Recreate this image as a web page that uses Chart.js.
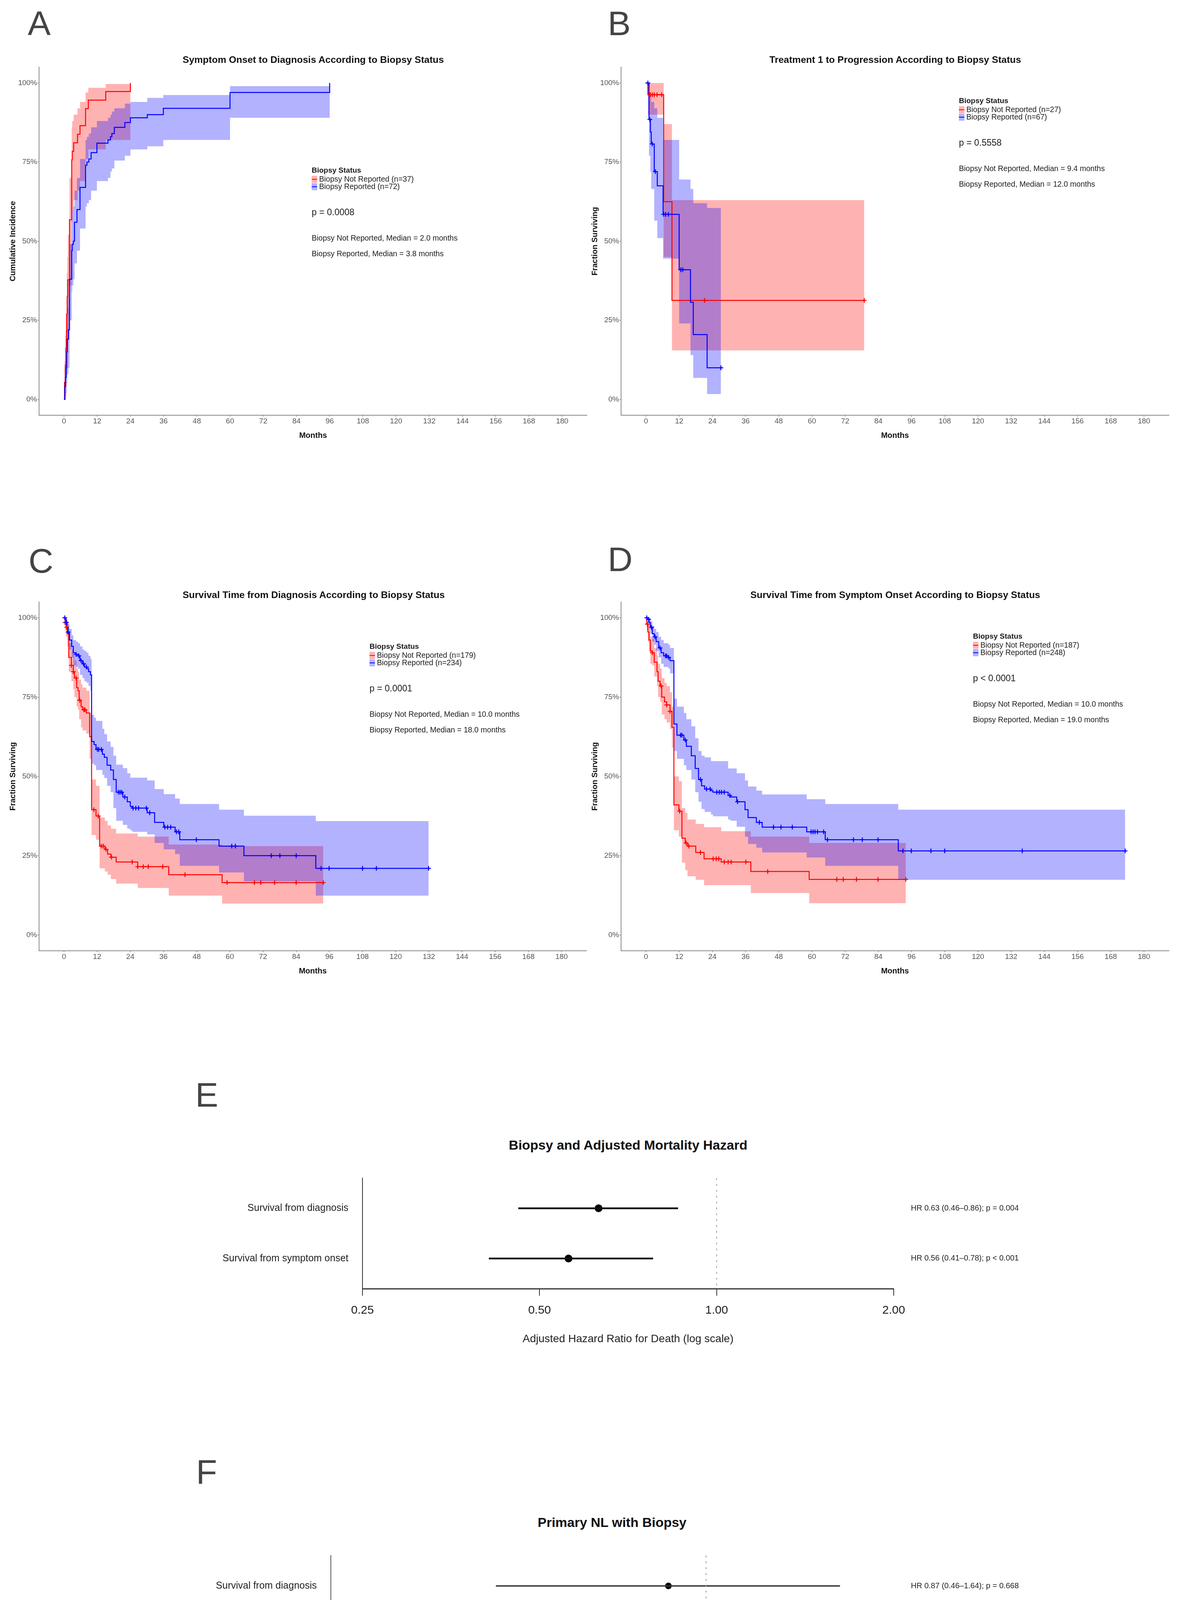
<!DOCTYPE html>
<html>
<head>
<meta charset="utf-8">
<script src="https://cdn.jsdelivr.net/npm/chart.js@4.4.1/dist/chart.umd.min.js"></script>
<style>
  body { margin: 0; background: #fff; width: 3021px; height: 5012px; position: relative; overflow: hidden;
         font-family: "Liberation Sans", Arial, sans-serif; }
  canvas { position: absolute; }
  .t { position: absolute; white-space: nowrap; color: #1a1a1a; line-height: 1.2; }
  .letter { position: absolute; font-size: 88px; line-height: 1; color: #444; }
  .sw { position: absolute; width: 14px; height: 18px; }
</style>
</head>
<body>
<script>
// ---- shared ticks / labels ----
var monthTicks = [0, 12, 24, 36, 48, 60, 72, 84, 96, 108, 120, 132, 144, 156, 168, 180];
var pctTickValues = [0, 0.25, 0.5, 0.75, 1];
var pctTickLabels = ['0%', '25%', '50%', '75%', '100%'];
var groupNames = ['Biopsy Not Reported', 'Biopsy Reported'];
var hrTicks = [0.25, 0.5, 1, 2];
var rowLabels = ['Survival from diagnosis', 'Survival from symptom onset'];

// ---- A: symptom onset to diagnosis (cumulative incidence) ----
var aNotT  = [0, 0.2, 0.5, 0.7, 0.9, 1.0, 1.2, 1.4, 2.0, 2.8, 3.0, 3.5, 4.9, 5.8, 7.8, 8.8, 15.1, 24];
var aNotS  = [0, 0.054, 0.108, 0.162, 0.216, 0.27, 0.324, 0.378, 0.568, 0.757, 0.784, 0.811, 0.838, 0.865, 0.919, 0.946, 0.973, 1.0];
var aNotLo = [0, 0, 0.01, 0.04, 0.07, 0.11, 0.15, 0.19, 0.36, 0.56, 0.60, 0.63, 0.66, 0.69, 0.76, 0.79, 0.82, 0.82];
var aNotHi = [0, 0.12, 0.20, 0.27, 0.33, 0.40, 0.45, 0.52, 0.70, 0.86, 0.88, 0.90, 0.92, 0.94, 0.97, 0.985, 0.997, 1.0];
var aNotCens = [];
var aRepT  = [0, 0.3, 0.5, 0.8, 1.0, 1.2, 1.6, 2.0, 2.8, 3.0, 3.4, 3.8, 4.7, 5.8, 7.8, 8.3, 9.0, 9.8, 11.9, 15.9, 16.8, 17.3, 18.2, 22.0, 24.0, 30.1, 35.9, 60, 96];
var aRepS  = [0, 0.04, 0.07, 0.10, 0.15, 0.19, 0.22, 0.38, 0.47, 0.49, 0.50, 0.56, 0.60, 0.67, 0.74, 0.75, 0.76, 0.78, 0.81, 0.82, 0.83, 0.84, 0.86, 0.875, 0.89, 0.90, 0.92, 0.97, 1.0];
var aRepLo = [0, 0, 0, 0.02, 0.05, 0.08, 0.10, 0.25, 0.34, 0.36, 0.38, 0.43, 0.47, 0.54, 0.61, 0.62, 0.63, 0.66, 0.69, 0.70, 0.72, 0.73, 0.755, 0.77, 0.79, 0.80, 0.82, 0.89, 0.89];
var aRepHi = [0, 0.09, 0.13, 0.17, 0.24, 0.29, 0.32, 0.49, 0.58, 0.60, 0.61, 0.66, 0.70, 0.76, 0.82, 0.83, 0.84, 0.86, 0.88, 0.89, 0.90, 0.91, 0.92, 0.935, 0.94, 0.953, 0.962, 0.99, 0.99];
var aRepCens = [];

// ---- B: treatment 1 to progression ----
var bNotT  = [0, 0.7, 6.4, 9.4, 78.9];
var bNotS  = [1, 0.963, 0.625, 0.313, 0.313];
var bNotLo = [1, 0.90, 0.45, 0.155, 0.155];
var bNotHi = [1, 1.0, 0.87, 0.63, 0.63];
var bNotCens = [1.6, 2.3, 3.0, 4.0, 5.7, 21.2, 78.9];
var bRepT  = [0, 1.1, 1.6, 1.9, 3.0, 4.1, 6.2, 12.0, 16.1, 17.1, 22.1, 27.1];
var bRepS  = [1, 0.885, 0.845, 0.807, 0.72, 0.675, 0.585, 0.41, 0.307, 0.205, 0.10, 0.10];
var bRepLo = [1, 0.77, 0.72, 0.665, 0.565, 0.51, 0.445, 0.24, 0.14, 0.068, 0.017, 0.017];
var bRepHi = [1, 0.97, 0.96, 0.94, 0.92, 0.89, 0.82, 0.695, 0.665, 0.62, 0.605, 0.605];
var bRepCens = [0.7, 1.4, 2.3, 3.4, 6.4, 7.1, 8.1, 12.6, 13.3, 27.1];

// ---- C: survival from diagnosis ----
var cNotT  = [0, 0.4, 0.8, 1.2, 1.75, 2.7, 3.4, 3.8, 4.6, 5.1, 5.5, 6.2, 6.7, 8.1, 9.3, 10.0, 11.6, 12.9, 14.8, 15.8, 17.0, 18.9, 26.7, 37.9, 57.2, 93.8];
var cNotS  = [1, 0.985, 0.97, 0.95, 0.875, 0.85, 0.83, 0.81, 0.78, 0.77, 0.74, 0.72, 0.71, 0.70, 0.625, 0.395, 0.375, 0.28, 0.27, 0.255, 0.245, 0.23, 0.215, 0.19, 0.165, 0.165];
var cNotLo = [1, 0.96, 0.94, 0.91, 0.83, 0.80, 0.775, 0.75, 0.72, 0.71, 0.68, 0.655, 0.645, 0.635, 0.555, 0.315, 0.30, 0.21, 0.20, 0.19, 0.176, 0.162, 0.148, 0.124, 0.099, 0.099];
var cNotHi = [1, 1, 0.995, 0.98, 0.92, 0.90, 0.885, 0.865, 0.84, 0.83, 0.805, 0.79, 0.78, 0.77, 0.70, 0.49, 0.47, 0.37, 0.36, 0.345, 0.335, 0.32, 0.31, 0.285, 0.28, 0.28];
var cNotCens = [0.4, 1.0, 2.7, 3.4, 4.4, 5.7, 7.2, 7.6, 10.8, 12.4, 13.5, 14.2, 15.2, 17.2, 24.7, 26.7, 28.7, 30.5, 35.7, 43.8, 59.0, 68.9, 71.2, 76.2, 84.0, 93.8];
var cRepT  = [0, 0.5, 0.8, 1.1, 1.5, 2.0, 2.8, 3.4, 4.4, 5.1, 5.8, 6.7, 7.4, 8.2, 8.9, 9.6, 10.0, 10.9, 11.6, 13.9, 14.6, 15.6, 16.9, 17.9, 18.9, 21.3, 22.9, 24.0, 24.7, 30.1, 32.8, 36.1, 40.2, 41.9, 56.1, 65.1, 91.1, 131.9];
var cRepS  = [1, 0.995, 0.985, 0.97, 0.955, 0.93, 0.91, 0.89, 0.885, 0.88, 0.865, 0.855, 0.845, 0.84, 0.83, 0.82, 0.61, 0.60, 0.585, 0.57, 0.56, 0.535, 0.52, 0.49, 0.45, 0.435, 0.42, 0.405, 0.40, 0.385, 0.355, 0.34, 0.325, 0.30, 0.28, 0.25, 0.21, 0.21];
var cRepLo = [1, 0.985, 0.97, 0.95, 0.93, 0.90, 0.875, 0.85, 0.845, 0.84, 0.82, 0.81, 0.80, 0.795, 0.785, 0.77, 0.54, 0.535, 0.52, 0.505, 0.495, 0.47, 0.45, 0.40, 0.36, 0.347, 0.335, 0.33, 0.325, 0.317, 0.29, 0.27, 0.255, 0.218, 0.197, 0.169, 0.124, 0.124];
var cRepHi = [1, 1, 1, 0.99, 0.98, 0.965, 0.945, 0.93, 0.925, 0.92, 0.91, 0.90, 0.895, 0.89, 0.88, 0.87, 0.694, 0.685, 0.675, 0.65, 0.633, 0.61, 0.593, 0.565, 0.537, 0.526, 0.51, 0.496, 0.496, 0.487, 0.46, 0.444, 0.43, 0.413, 0.395, 0.376, 0.359, 0.359];
var cRepCens = [0.3, 0.9, 1.5, 4.4, 5.4, 6.2, 7.1, 8.1, 12.1, 12.6, 13.5, 19.7, 20.3, 20.9, 22.0, 25.0, 26.0, 27.0, 29.8, 31.0, 36.5, 37.5, 38.6, 40.7, 41.5, 47.9, 60.7, 62.0, 75.0, 78.1, 84.0, 93.0, 95.9, 108.0, 113.0, 131.9];

// ---- D: survival from symptom onset ----
var dNotT  = [0, 0.3, 0.7, 1.1, 1.6, 2.3, 3.0, 4.0, 4.4, 5.1, 5.7, 6.7, 7.5, 8.7, 9.4, 10.1, 11.9, 13.0, 14.2, 15.0, 18.0, 21.0, 27.2, 37.9, 59.0, 93.9];
var dNotS  = [1, 0.98, 0.955, 0.93, 0.895, 0.89, 0.86, 0.83, 0.80, 0.785, 0.75, 0.735, 0.725, 0.705, 0.655, 0.41, 0.39, 0.305, 0.29, 0.28, 0.26, 0.24, 0.23, 0.20, 0.175, 0.175];
var dNotLo = [1, 0.96, 0.925, 0.895, 0.855, 0.85, 0.815, 0.785, 0.75, 0.735, 0.695, 0.68, 0.67, 0.65, 0.59, 0.33, 0.31, 0.228, 0.204, 0.185, 0.174, 0.157, 0.157, 0.132, 0.10, 0.10];
var dNotHi = [1, 1, 0.99, 0.97, 0.94, 0.935, 0.905, 0.88, 0.855, 0.84, 0.81, 0.795, 0.785, 0.765, 0.72, 0.50, 0.485, 0.40, 0.385, 0.364, 0.35, 0.34, 0.327, 0.31, 0.29, 0.29];
var dNotCens = [0.5, 2.3, 5.5, 7.5, 8.7, 12.2, 14.5, 15.5, 19.7, 24.3, 25.4, 26.3, 28.3, 29.7, 30.8, 36.1, 44.0, 69.0, 71.3, 76.1, 83.9, 93.9];
var dRepT  = [0, 0.7, 1.1, 1.6, 2.3, 3.0, 3.7, 4.6, 5.5, 6.4, 8.1, 8.7, 10.1, 11.2, 13.7, 14.6, 16.4, 17.8, 19.0, 20.1, 21.2, 23.5, 24.2, 29.7, 30.6, 32.8, 35.8, 36.9, 39.9, 42.0, 58.1, 64.8, 91.2, 173.2];
var dRepS  = [1, 0.995, 0.985, 0.97, 0.95, 0.94, 0.925, 0.905, 0.89, 0.88, 0.875, 0.865, 0.665, 0.63, 0.615, 0.595, 0.565, 0.525, 0.49, 0.47, 0.46, 0.455, 0.45, 0.44, 0.435, 0.42, 0.395, 0.37, 0.355, 0.34, 0.325, 0.30, 0.265, 0.265];
var dRepLo = [1, 0.985, 0.97, 0.95, 0.925, 0.915, 0.895, 0.875, 0.855, 0.845, 0.84, 0.825, 0.58, 0.555, 0.535, 0.52, 0.49, 0.45, 0.42, 0.397, 0.388, 0.38, 0.374, 0.364, 0.36, 0.341, 0.31, 0.287, 0.275, 0.26, 0.244, 0.218, 0.174, 0.174];
var dRepHi = [1, 1, 1, 0.99, 0.975, 0.965, 0.955, 0.94, 0.93, 0.92, 0.915, 0.905, 0.745, 0.72, 0.70, 0.68, 0.658, 0.62, 0.58, 0.565, 0.56, 0.548, 0.548, 0.525, 0.525, 0.51, 0.487, 0.468, 0.455, 0.443, 0.428, 0.413, 0.395, 0.395];
var dRepCens = [0.3, 1.0, 2.0, 3.3, 5.1, 7.1, 7.5, 8.2, 12.5, 13.0, 14.2, 19.7, 21.9, 23.2, 25.6, 26.5, 27.3, 28.3, 30.3, 33.1, 41.0, 46.1, 48.8, 52.9, 59.7, 60.4, 61.1, 62.0, 64.2, 65.6, 75.0, 78.2, 83.9, 92.9, 95.9, 103.0, 108.0, 136.0, 173.2];

// ---- E / F: hazard ratios ----
var eHR = [0.63, 0.56], eLo = [0.46, 0.41], eHi = [0.86, 0.78], eP = ['= 0.004', '< 0.001'];
var fPrimHR = [0.87, 0.77], fPrimLo = [0.46, 0.41], fPrimHi = [1.64, 1.45], fPrimP = ['= 0.668', '= 0.417'];
var fSecHR = [0.50, 0.45], fSecLo = [0.32, 0.29], fSecHi = [0.79, 0.72], fSecP = ['= 0.003', '< 0.001'];

Chart.defaults.font.family = '"Liberation Sans", Arial, sans-serif';

var lineCols = ['#ff0000', '#0000ff'];
var bandCols = ['rgba(255,0,0,0.3)', 'rgba(0,0,255,0.3)'];
var axisGrey = '#8a8a8a';

function addCanvas(left, top, w, h) {
  var c = document.createElement('canvas');
  c.width = w; c.height = h;
  c.style.left = left + 'px'; c.style.top = top + 'px';
  c.style.width = w + 'px'; c.style.height = h + 'px';
  document.body.appendChild(c);
  return c;
}

function addText(str, x, y, css, center) {
  var d = document.createElement('div');
  d.className = 't';
  d.textContent = str;
  d.style.cssText += css;
  d.style.left = x + 'px';
  d.style.top = y + 'px';
  d.style.transform = center ? 'translate(-50%,-50%)' : 'translate(0,-50%)';
  document.body.appendChild(d);
}

function addLetter(ch, x, y) {
  var d = document.createElement('div');
  d.className = 'letter';
  d.textContent = ch;
  d.style.left = x + 'px'; d.style.top = y + 'px';
  document.body.appendChild(d);
}

function xy(ts, vs) {
  return ts.map(function(t, i) { return {x: t, y: vs[i]}; });
}

function stepAt(ts, vs, t) {
  var v = vs[0];
  for (var i = 0; i < ts.length; i++) if (ts[i] <= t) v = vs[i];
  return v;
}

function buildKm(p) {
  var cv = addCanvas(p.left, p.top, p.w, p.h);
  var ds = [];
  p.groups.forEach(function(g, gi) {
    ds.push({data: xy(g.t, g.lo), borderColor: 'rgba(0,0,0,0)', borderWidth: 1, pointRadius: 0,
             fill: false, stepped: 'before', order: 20 - gi * 2});
    ds.push({data: xy(g.t, g.hi), borderColor: 'rgba(0,0,0,0)', borderWidth: 1, pointRadius: 0,
             backgroundColor: bandCols[gi], fill: '-1', stepped: 'before', order: 19 - gi * 2});
  });
  p.groups.forEach(function(g, gi) {
    ds.push({data: xy(g.t, g.s), borderColor: lineCols[gi], borderWidth: 2.5, pointRadius: 0,
             fill: false, stepped: 'before', order: 10 - gi});
  });
  p.groups.forEach(function(g, gi) {
    ds.push({data: g.cens.map(function(t) { return {x: t, y: stepAt(g.t, g.s, t)}; }),
             showLine: false, pointStyle: 'cross', pointRadius: 6, pointBorderWidth: 2.5,
             borderColor: lineCols[gi], backgroundColor: lineCols[gi], order: 5 - gi});
  });

  new Chart(cv, {
    type: 'line',
    data: {datasets: ds},
    options: {
      responsive: false, animation: false, events: [],
      layout: {padding: {top: 22, right: 7, left: 0, bottom: 0}},
      plugins: {legend: {display: false}, tooltip: {enabled: false}},
      scales: {
        x: {
          type: 'linear', min: -9, max: 189,
          afterBuildTicks: function(s) { s.ticks = monthTicks.map(function(v) { return {value: v}; }); },
          afterFit: function(s) { s.height = 77; },
          border: {display: true, color: axisGrey, width: 2},
          grid: {display: true, drawOnChartArea: false, drawTicks: true, tickLength: 4, color: axisGrey, lineWidth: 1.5},
          ticks: {color: '#555', font: {size: 19}, padding: 0, maxRotation: 0, autoSkip: false},
          title: {display: true, text: 'Months', color: '#111', font: {size: 20, weight: 'bold'}, padding: {top: 0, bottom: 13}}
        },
        y: {
          type: 'linear', min: -0.05, max: 1.05,
          afterBuildTicks: function(s) { s.ticks = pctTickValues.map(function(v) { return {value: v}; }); },
          afterFit: function(s) { s.width = 100; },
          border: {display: true, color: axisGrey, width: 2},
          grid: {display: true, drawOnChartArea: false, drawTicks: true, tickLength: 4, color: axisGrey, lineWidth: 1.5},
          ticks: {color: '#555', font: {size: 19}, padding: 1,
                  callback: function(v) { return pctTickLabels[pctTickValues.indexOf(v)]; }},
          title: {display: true, text: p.yTitle, color: '#111', font: {size: 20, weight: 'bold'}, padding: {top: 21, bottom: 0}}
        }
      }
    }
  });

  // title, legend and notes
  addText(p.title, p.titleX, p.titleY, 'font-size:24.5px;font-weight:bold;color:#111;', true);
  var L = p.legend[0], T = p.legend[1];
  addText('Biopsy Status', L, T, 'font-size:19px;font-weight:bold;', false);
  [0, 1].forEach(function(gi) {
    var y = T + 23 + gi * 18.5;
    var sw = document.createElement('div');
    sw.className = 'sw';
    var light = gi === 0 ? 'rgb(255,179,179)' : 'rgb(179,179,255)';
    sw.style.background = 'linear-gradient(to bottom,' + light + ' 0 42%,' + lineCols[gi] + ' 42% 58%,' + light + ' 58% 100%)';
    sw.style.left = L + 'px'; sw.style.top = (y - 9) + 'px';
    document.body.appendChild(sw);
    addText(groupNames[gi] + ' (n=' + p.n[gi] + ')', L + 19, y, 'font-size:19.5px;', false);
  });
  addText(p.pText, L, T + 108, 'font-size:23px;', false);
  addText(groupNames[0] + ', Median = ' + p.med[0] + ' months', L, T + 174, 'font-size:19.5px;', false);
  addText(groupNames[1] + ', Median = ' + p.med[1] + ' months', L, T + 214, 'font-size:19.5px;', false);
}

function hrLabel(h, l, u, pv) {
  return 'HR ' + h.toFixed(2) + ' (' + l.toFixed(2) + '\u2013' + u.toFixed(2) + '); p ' + pv;
}

function buildForest(f) {
  var cv = addCanvas(f.left, f.top, f.w, f.h);
  var rowPos = [1, 2];
  var hrText = f.hr.map(function(v, i) { return hrLabel(v, f.lo[i], f.hi[i], f.p[i]); });
  var ds = [];
  ds.push({data: [{x: 1, y: 0.4}, {x: 1, y: 2.6}], borderColor: '#9a9a9a', borderWidth: 2,
           borderDash: [5, 10], pointRadius: 0, fill: false});
  f.hr.forEach(function(v, i) {
    ds.push({data: [{x: f.lo[i], y: rowPos[i]}, {x: f.hi[i], y: rowPos[i]}], borderColor: f.ink,
             borderWidth: f.ciW, pointRadius: 0, fill: false});
  });
  ds.push({data: f.hr.map(function(v, i) { return {x: v, y: rowPos[i]}; }), showLine: false,
           pointRadius: f.dot, pointBackgroundColor: '#000', pointBorderColor: '#000', pointBorderWidth: 0});

  var tickList = function(s) { s.ticks = rowPos.map(function(v) { return {value: v}; }); };
  new Chart(cv, {
    type: 'line',
    data: {datasets: ds},
    options: {
      responsive: false, animation: false, events: [],
      layout: {padding: {top: 18, right: 0, left: 0, bottom: 0}},
      plugins: {legend: {display: false}, tooltip: {enabled: false}},
      scales: {
        x: {
          type: 'logarithmic', min: 0.25, max: 2,
          afterBuildTicks: function(s) { s.ticks = hrTicks.map(function(v) { return {value: v}; }); },
          afterFit: function(s) { s.height = f.xH; },
          border: {display: true, color: f.axisInk, width: 3},
          grid: {display: true, drawOnChartArea: false, drawTicks: true, tickLength: 18, color: f.axisInk, lineWidth: 2},
          ticks: {color: '#222', font: {size: 30}, padding: f.tickPad, maxRotation: 0, autoSkip: false,
                  callback: function(v) { return Number(v).toFixed(2); }},
          title: {display: f.xTitle, text: 'Adjusted Hazard Ratio for Death (log scale)', color: '#222',
                  font: {size: 28}, padding: {top: 0, bottom: f.titlePad}}
        },
        y: {
          type: 'linear', min: 0.4, max: 2.6, reverse: true,
          afterBuildTicks: tickList,
          afterFit: function(s) { s.width = f.axisL; },
          border: {display: true, color: f.axisInk, width: 2},
          grid: {display: false, drawTicks: false},
          ticks: {color: '#222', font: {size: 25}, padding: 36,
                  callback: function(v) { return rowLabels[rowPos.indexOf(v)]; }}
        },
        y2: {
          type: 'linear', position: 'right', min: 0.4, max: 2.6, reverse: true,
          afterBuildTicks: tickList,
          afterFit: function(s) { s.width = f.axisR; },
          border: {display: false},
          grid: {display: false, drawTicks: false},
          ticks: {color: '#222', font: {size: 20}, padding: 44,
                  callback: function(v) { return hrText[rowPos.indexOf(v)]; }}
        }
      }
    }
  });
  if (f.title) addText(f.title, f.titleX, f.titleY, 'font-size:34px;font-weight:bold;color:#111;', true);
}

// ---- panel letters ----
addLetter('A', 71, 16);
addLetter('B', 1556, 16);
addLetter('C', 73, 1392);
addLetter('D', 1556, 1388);
addLetter('E', 500, 2759);
addLetter('F', 502, 3724);

// ---- KM panels ----
buildKm({left: 0, top: 150, w: 1510, h: 990,
  title: 'Symptom Onset to Diagnosis According to Biopsy Status', titleX: 802, titleY: 153,
  yTitle: 'Cumulative Incidence', n: [37, 72], pText: 'p = 0.0008', med: ['2.0', '3.8'], legend: [798, 436],
  groups: [{t: aNotT, s: aNotS, lo: aNotLo, hi: aNotHi, cens: aNotCens},
           {t: aRepT, s: aRepS, lo: aRepLo, hi: aRepHi, cens: aRepCens}]});
buildKm({left: 1490, top: 150, w: 1511, h: 990,
  title: 'Treatment 1 to Progression According to Biopsy Status', titleX: 2292, titleY: 153,
  yTitle: 'Fraction Surviving', n: [27, 67], pText: 'p = 0.5558', med: ['9.4', '12.0'], legend: [2455, 258],
  groups: [{t: bNotT, s: bNotS, lo: bNotLo, hi: bNotHi, cens: bNotCens},
           {t: bRepT, s: bRepS, lo: bRepLo, hi: bRepHi, cens: bRepCens}]});
buildKm({left: 0, top: 1519, w: 1510, h: 992,
  title: 'Survival Time from Diagnosis According to Biopsy Status', titleX: 803, titleY: 1523,
  yTitle: 'Fraction Surviving', n: [179, 234], pText: 'p = 0.0001', med: ['10.0', '18.0'], legend: [946, 1655],
  groups: [{t: cNotT, s: cNotS, lo: cNotLo, hi: cNotHi, cens: cNotCens},
           {t: cRepT, s: cRepS, lo: cRepLo, hi: cRepHi, cens: cRepCens}]});
buildKm({left: 1490, top: 1519, w: 1511, h: 992,
  title: 'Survival Time from Symptom Onset According to Biopsy Status', titleX: 2292, titleY: 1523,
  yTitle: 'Fraction Surviving', n: [187, 248], pText: 'p < 0.0001', med: ['10.0', '19.0'], legend: [2491, 1629],
  groups: [{t: dNotT, s: dNotS, lo: dNotLo, hi: dNotHi, cens: dNotCens},
           {t: dRepT, s: dRepS, lo: dRepLo, hi: dRepHi, cens: dRepCens}]});

// ---- forest panels ----
buildForest({left: 400, top: 2960, w: 2416, h: 510, axisL: 528, axisR: 528, xH: 171, tickPad: 20,
  xTitle: true, titlePad: 25, ink: '#111', axisInk: '#333', ciW: 4.5, dot: 10,
  hr: eHR, lo: eLo, hi: eHi, p: eP,
  title: 'Biopsy and Adjusted Mortality Hazard', titleX: 1608, titleY: 2931});
buildForest({left: 400, top: 3926, w: 2335, h: 417, axisL: 447, axisR: 447, xH: 75, tickPad: 18,
  xTitle: false, titlePad: 0, ink: '#333', axisInk: '#555', ciW: 3.5, dot: 8.5,
  hr: fPrimHR, lo: fPrimLo, hi: fPrimHi, p: fPrimP,
  title: 'Primary NL with Biopsy', titleX: 1567, titleY: 3897});
buildForest({left: 400, top: 4459, w: 2335, h: 545, axisL: 447, axisR: 447, xH: 203, tickPad: 20,
  xTitle: true, titlePad: 20, ink: '#333', axisInk: '#555', ciW: 3.5, dot: 8.5,
  hr: fSecHR, lo: fSecLo, hi: fSecHi, p: fSecP,
  title: 'Secondary NL with Biopsy', titleX: 1567, titleY: 4430});
</script>
</body>
</html>
